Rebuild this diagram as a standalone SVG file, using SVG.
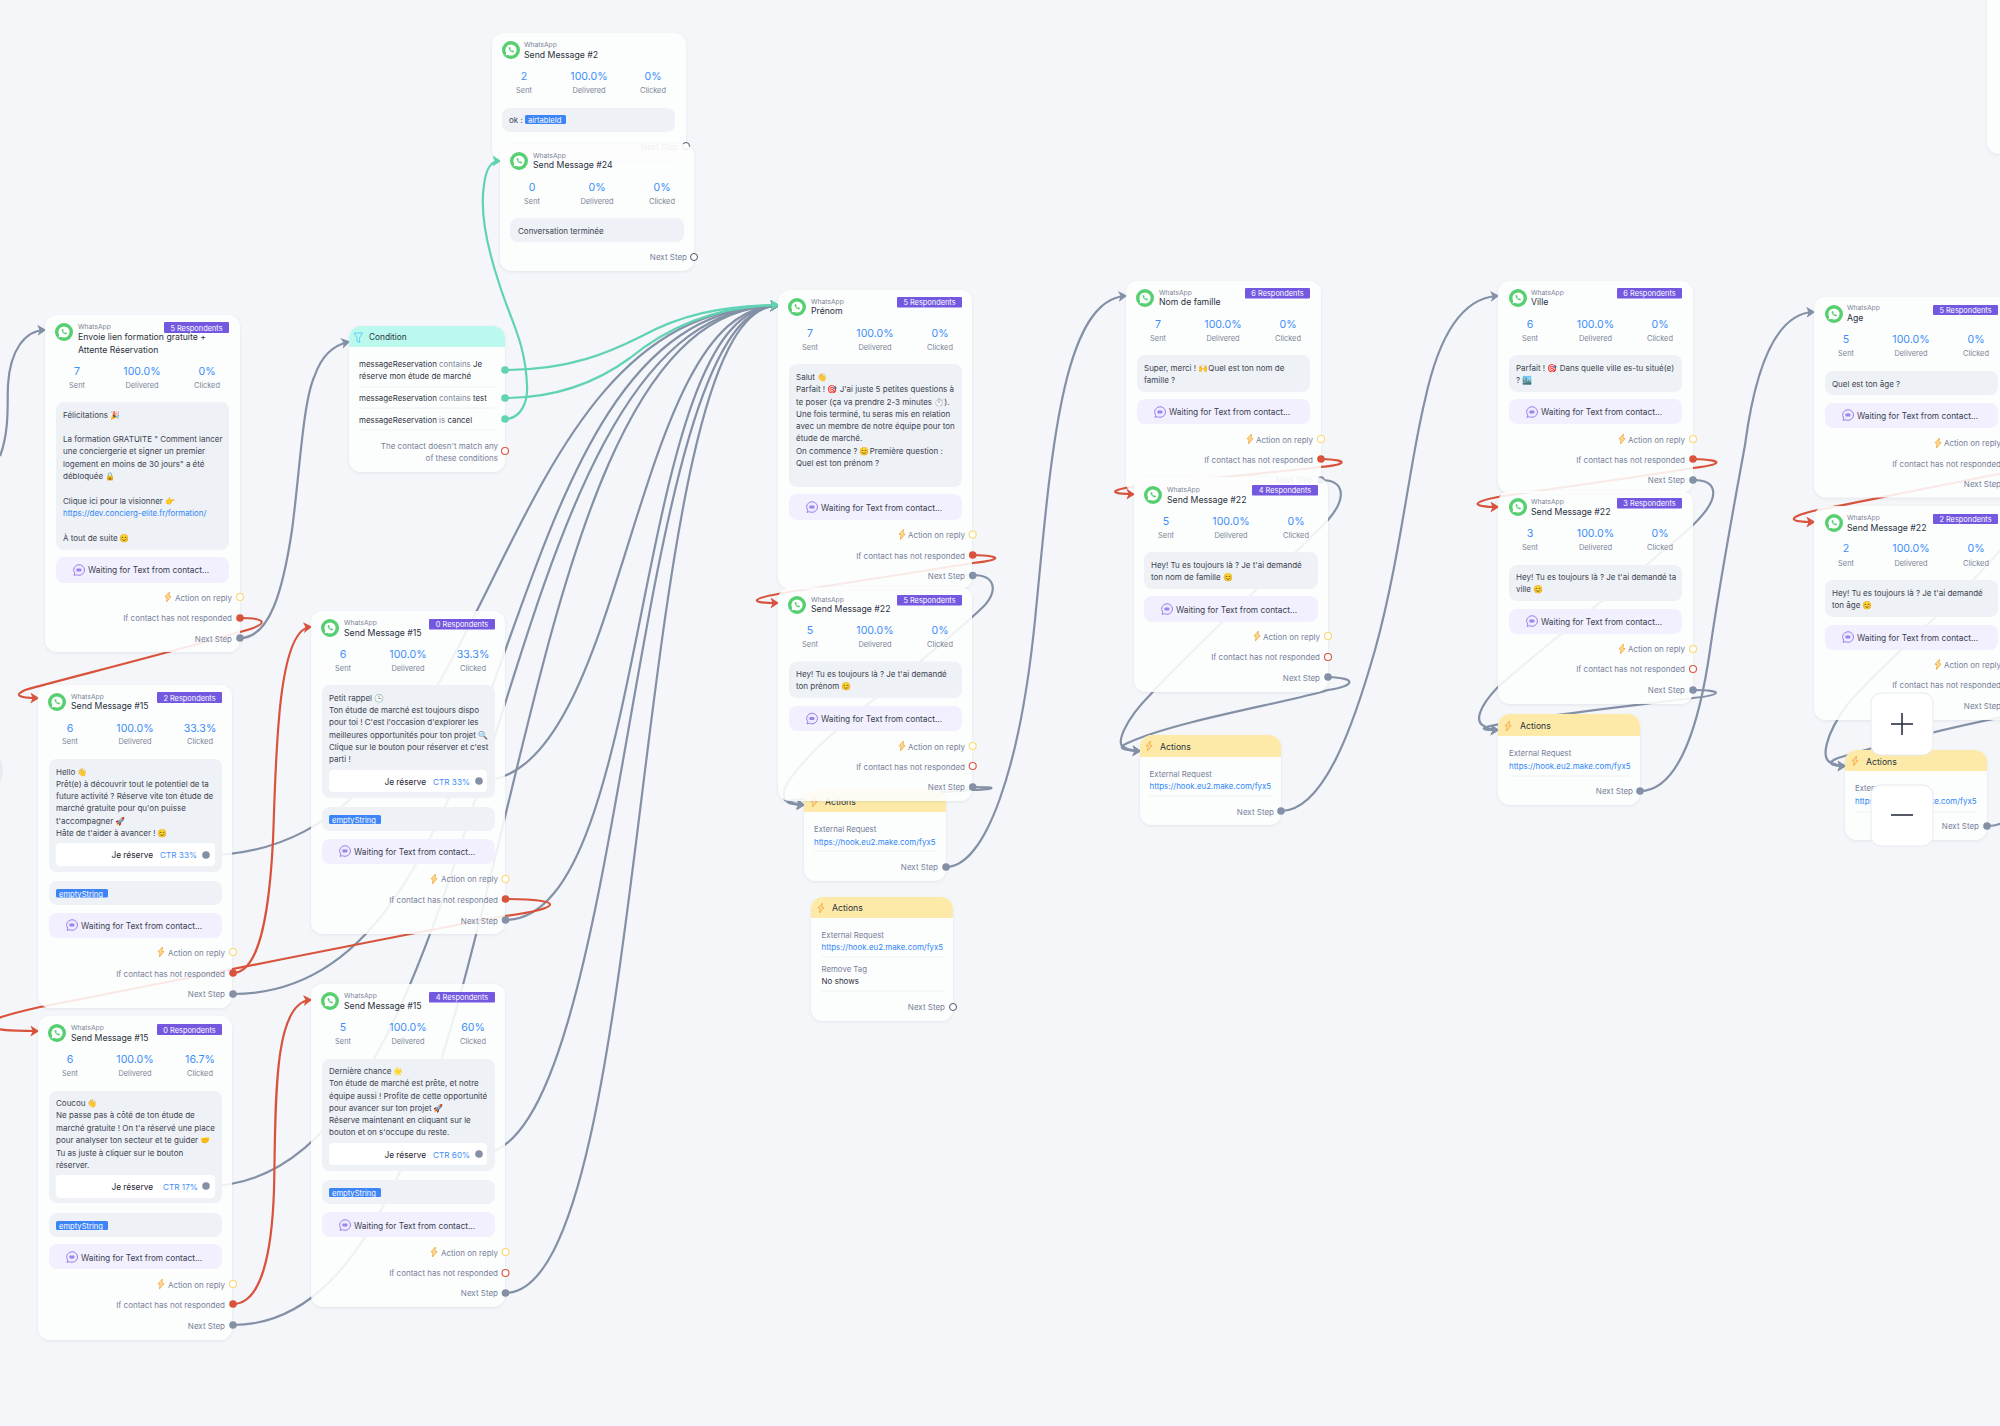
<svg xmlns="http://www.w3.org/2000/svg" xmlns:xlink="http://www.w3.org/1999/xlink" width="2000" height="1426" viewBox="0 0 2000 1426">
<style>
text{font-family:Inter,"Noto Sans","Noto Color Emoji",sans-serif}
.cd{fill:#fff;fill-opacity:.87;filter:url(#sh)}
.wa{font-size:6.7px;fill:#7b8597}
.ti{font-size:8.7px;fill:#2b3240}
.v{font-size:10.6px;fill:#3d8ef8;text-anchor:middle}
.l{font-size:7.4px;fill:#7b8597;text-anchor:middle}
.m{font-size:8px;fill:#3d4452}
.lk{font-size:7.9px;fill:#2f86f6}
.w{font-size:8.3px;fill:#3a4150}
.p{font-size:8px;fill:#77819a;text-anchor:end}
.ph{font-size:7.8px;fill:#77819a}
.bd{fill:#7459e0}
.bt{font-size:7.4px;fill:#fff;text-anchor:middle}
.mb{fill:#eef1f5}
.wb{fill:#f2f0fe}
.btn{fill:#fff;fill-opacity:.95}
.jr{font-size:8.3px;fill:#1f2430;text-anchor:end}
.ct{font-size:8.2px;fill:#3d8ef8}
.tg{fill:#3d84f7}
.tt{font-size:7.6px;fill:#fff}
.hy{fill:#fff;stroke:#fcd670;stroke-width:1.1}
.hr{fill:#d9533c}
.ho{fill:#fff;stroke:#d9533c;stroke-width:1.1}
.hg{fill:#8390a5}
.he{fill:#fff;stroke:#4a5568;stroke-width:1}
.hn{fill:#5fd3b3}
.ah{fill:#fdeaa8}
.at{font-size:8.7px;fill:#2b3240}
.dv{stroke:#eef1f5;stroke-width:1}
.c{font-size:7.9px;fill:#2f3644}
.c2{fill:#7b8597}
.g{fill:none;stroke:#8390a5;stroke-width:2.2}
.n{fill:none;stroke:#5fd3b3;stroke-width:2.2}
.r{fill:none;stroke:#d9533c;stroke-width:2.2}
.zb{fill:#fff;stroke:#e6e9ef;stroke-width:1}
.zi{stroke:#2a3040;stroke-width:1.6}
</style>
<defs>
<filter id="sh" x="-10%" y="-10%" width="120%" height="120%"><feDropShadow dx="0" dy="1" stdDeviation="1.5" flood-color="#5a6a85" flood-opacity=".14"/></filter>
<marker id="ag" markerUnits="userSpaceOnUse" markerWidth="9" markerHeight="11" viewBox="0 0 8 10" refX="6" refY="5" orient="auto"><path d="M0 0L8 5L0 10L2 5z" fill="#8390a5"/></marker>
<marker id="an" markerUnits="userSpaceOnUse" markerWidth="9" markerHeight="11" viewBox="0 0 8 10" refX="6" refY="5" orient="auto"><path d="M0 0L8 5L0 10L2 5z" fill="#5fd3b3"/></marker>
<marker id="ar" markerUnits="userSpaceOnUse" markerWidth="9" markerHeight="11" viewBox="0 0 8 10" refX="6" refY="5" orient="auto"><path d="M0 0L8 5L0 10L2 5z" fill="#d9533c"/></marker>
<g id="wa"><circle r="9" fill="#55cf70"/><circle r="5.6" fill="#fff"/><path d="M-5.5 5.5L-4.4 2L-2 4.4z" fill="#fff"/><path d="M-2.4-2.6C-2.6-.4-.2 2.2 2.4 2.4L3 1 1.6.3 1 .9C.2.6-.6-.2-.9-1L-.3-1.6-1-3z" fill="#55cf70"/></g>
<g id="ch"><path d="M0-5.3A5.5 5.3 0 0 1 0 5.3Q-1.5 5.3-2.8 4.7L-5 5.4L-4.3 3.2A5.5 5.3 0 0 1 0-5.3z" fill="#efeafd" stroke="#9a83ea" stroke-width="1"/><rect x="-2.6" y="-1.6" width="5" height="3" rx="1" fill="#9a83ea"/></g>
<path id="bt" d="M1.6-5L-3-.2L-.8.2L-1.6 5L3-.4L.8-.8z" fill="#fde3a8" stroke="#f6b04a" stroke-width="1"/>
</defs>
<rect width="2000" height="1426" fill="#f4f6f9"/>
<circle cx="-25" cy="770" r="28" fill="#e8ecf1"/>
<rect x="1987" y="-20" width="60" height="174" rx="12" class="cd"/>

<g id="connectors">
<path class="g" marker-end="url(#ag)" d="M0 456C10 430 7 400 8 385C10 350 25 331 44 330"/>
<path class="g" marker-end="url(#ag)" d="M240 638C270 638 283 590 292 530C300 470 303 400 315 375C322 355 335 345 348 342"/>
<path class="r" marker-end="url(#ar)" d="M240 618C268 618 270 624 240 632C180 650 60 680 25 690C14 695 18 698 37 698"/>
<path class="g" marker-end="url(#ag)" d="M233 994C533 994 478 306 777 306"/>
<path class="g" marker-end="url(#ag)" d="M206 855C506 855 478 306 777 306"/>
<path class="g" marker-end="url(#ag)" d="M206 1186C506 1186 478 306 777 306"/>
<path class="g" marker-end="url(#ag)" d="M233 1325C533 1325 478 306 777 306"/>
<path class="g" marker-end="url(#ag)" d="M479 781C629 781 628 306 777 306"/>
<path class="g" marker-end="url(#ag)" d="M505 920C655 920 628 306 777 306"/>
<path class="g" marker-end="url(#ag)" d="M479 1154C629 1154 628 306 777 306"/>
<path class="g" marker-end="url(#ag)" d="M505 1293C655 1293 628 306 777 306"/>
<path class="n" marker-end="url(#an)" d="M505 370C570 370 610 352 640 337C680 315 720 306 777 305"/>
<path class="n" marker-end="url(#an)" d="M505 398C560 398 600 380 630 358C670 325 720 306 777 305"/>
<path class="n" marker-end="url(#an)" d="M505 419C522 419 528 400 527 385C525 340 510 320 498 280C485 240 480 210 484 185C486 168 492 161 499 161"/>
<path class="r" marker-end="url(#ar)" d="M233 973C262 973 270 900 273 840C276 770 276 630 310 627"/>
<path class="r" marker-end="url(#ar)" d="M505 899C565 899 565 908 505 916C400 935 130 990 40 1007C0 1016-15 1022-12 1025C-10 1030 10 1031 37 1031"/>
<path class="r" marker-end="url(#ar)" d="M233 1304C262 1304 272 1250 274 1190C276 1110 272 1003 310 1000"/>
<path class="r" marker-end="url(#ar)" d="M973 555C1005 556 1000 560 973 563C900 575 810 588 778 594C750 599 750 603 777 603"/>
<path class="g" marker-end="url(#ag)" d="M973 575C995 575 998 590 985 605C950 640 870 700 820 745C790 775 780 790 785 800C790 803 797 804 803 805"/>
<path class="g" marker-end="url(#ag)" d="M973 787C1000 787 995 789 973 790C920 795 820 795 788 801C785 803 795 805 803 805"/>
<path class="g" marker-end="url(#ag)" d="M946 867C985 867 1020 770 1035 620C1050 470 1060 300 1125 296"/>
<path class="r" marker-end="url(#ar)" d="M1321 459C1352 460 1345 465 1320 467C1270 473 1170 482 1130 487C1108 491 1112 494 1133 494"/>
<path class="g" marker-end="url(#ag)" d="M1321 480C1345 480 1347 498 1328 520C1300 550 1190 650 1150 695C1125 720 1115 745 1124 747C1128 750 1135 751 1139 751"/>
<path class="g" marker-end="url(#ag)" d="M1328 677C1358 678 1355 686 1328 690C1290 702 1180 720 1130 742C1115 748 1122 750 1139 751"/>
<path class="g" marker-end="url(#ag)" d="M1281 811C1325 811 1355 720 1375 650C1400 560 1410 460 1425 400C1440 330 1465 298 1497 296"/>
<path class="r" marker-end="url(#ar)" d="M1693 459C1728 460 1720 465 1693 468C1620 480 1540 490 1498 497C1470 502 1472 507 1497 507"/>
<path class="g" marker-end="url(#ag)" d="M1693 480C1718 480 1722 497 1693 525C1650 565 1550 640 1497 688C1478 708 1475 722 1484 726C1488 729 1494 730 1497 730"/>
<path class="g" marker-end="url(#ag)" d="M1693 690C1725 690 1722 695 1693 698C1640 705 1540 715 1490 726C1478 729 1485 730 1497 730"/>
<path class="g" marker-end="url(#ag)" d="M1640 791C1680 791 1700 720 1710 650C1720 580 1735 500 1745 445C1755 370 1775 314 1813 312"/>
<path class="r" marker-end="url(#ar)" d="M2010 472C1950 483 1870 500 1813 511C1785 518 1790 522 1813 522"/>
<path class="g" marker-end="url(#ag)" d="M2009 540C1960 600 1880 665 1847 705C1825 735 1820 760 1832 763C1836 765 1840 766 1844 766"/>
<path class="g" marker-end="url(#ag)" d="M2009 716C1960 725 1880 745 1838 758C1825 763 1832 766 1844 766"/>
<path class="g" d="M1987 826C1994 826 1998 825 2002 823"/>
</g>

<g id="node-envoie">
<rect x="45" y="315" width="195" height="337" rx="12" class="cd"/>
<use href="#wa" x="64" y="332"/>
<text x="78" y="329" class="wa">WhatsApp</text>
<text x="78" y="340" class="ti">Envoie lien formation gratuite +</text>
<text x="78" y="353" class="ti">Attente Réservation</text>
<rect x="164" y="322" width="65" height="11" rx="1" class="bd"/><text x="196.5" y="330.8" class="bt">5 Respondents</text>
<text x="77" y="375" class="v">7</text><text x="142" y="375" class="v">100.0%</text><text x="207" y="375" class="v">0%</text>
<text x="77" y="388" class="l">Sent</text><text x="142" y="388" class="l">Delivered</text><text x="207" y="388" class="l">Clicked</text>
<rect x="56" y="402" width="173" height="148" rx="8" class="mb"/>
<text x="63" y="418" class="m">Félicitations 🎉</text>
<text x="63" y="442" class="m">La formation GRATUITE " Comment lancer</text>
<text x="63" y="454" class="m">une conciergerie et signer un premier</text>
<text x="63" y="467" class="m">logement en moins de 30 jours" a été</text>
<text x="63" y="479" class="m">débloquée 🔒</text>
<text x="63" y="504" class="m">Clique ici pour la visionner 👉</text>
<text x="63" y="516" class="lk">https://dev.concierg-elite.fr/formation/</text>
<text x="63" y="541" class="m">À tout de suite 😊</text>
<rect x="56" y="557" width="173" height="26" rx="8" class="wb"/><use href="#ch" x="79" y="570"/><text x="88" y="573" class="w">Waiting for Text from contact...</text>
<use href="#bt" x="168" y="597"/><text x="232" y="601" class="p">Action on reply</text><circle cx="240" cy="597" r="3.5" class="hy"/>
<text x="232" y="621" class="p">If contact has not responded</text><circle cx="240" cy="618" r="3.8" class="hr"/>
<text x="232" y="642" class="p">Next Step</text><circle cx="240" cy="638" r="3.8" class="hg"/>
</g>

<g id="node-condition">
<path d="M361 326H493A12 12 0 0 1 505 338V460A12 12 0 0 1 493 472H361A12 12 0 0 1 349 460V338A12 12 0 0 1 361 326z" class="cd"/>
<path d="M361 326H493A12 12 0 0 1 505 338V347H349V338A12 12 0 0 1 361 326z" fill="#bbf9ee"/>
<path d="M354 333H362.5L359.6 337.6V342.5L356.9 341V337.6z" fill="none" stroke="#5dd0f0" stroke-width="1"/>
<text x="369" y="340" style="font-size:8.3px;fill:#2b3240">Condition</text>
<text x="359" y="367" class="c">messageReservation <tspan class="c2">contains</tspan> Je</text>
<text x="359" y="379" class="c">réserve mon étude de marché</text>
<line x1="359" y1="387" x2="495" y2="387" class="dv"/>
<text x="359" y="401" class="c">messageReservation <tspan class="c2">contains</tspan> test</text>
<line x1="359" y1="408" x2="495" y2="408" class="dv"/>
<text x="359" y="423" class="c">messageReservation <tspan class="c2">is</tspan> cancel</text>
<line x1="359" y1="430" x2="495" y2="430" class="dv"/>
<text x="498" y="449" class="p">The contact doesn't match any</text>
<text x="498" y="461" class="p">of these conditions</text>
<circle cx="505" cy="370" r="3.8" class="hn"/><circle cx="505" cy="398" r="3.8" class="hn"/><circle cx="505" cy="419" r="3.8" class="hn"/><circle cx="505" cy="451" r="3.5" class="ho"/>
</g>

<g id="node-send2">
<rect x="492" y="33" width="194" height="127" rx="12" class="cd"/>
<use href="#wa" x="511" y="50"/>
<text x="524" y="47" class="wa">WhatsApp</text><text x="524" y="58" class="ti">Send Message #2</text>
<text x="524" y="80" class="v">2</text><text x="589" y="80" class="v">100.0%</text><text x="653" y="80" class="v">0%</text>
<text x="524" y="93" class="l">Sent</text><text x="589" y="93" class="l">Delivered</text><text x="653" y="93" class="l">Clicked</text>
<rect x="502" y="108" width="173" height="24" rx="8" class="mb"/>
<text x="509" y="123" class="m">ok :</text><rect x="525" y="115" width="41" height="9" rx="1.5" class="tg"/><text x="528" y="123" class="tt">airtableId</text>
<text x="678" y="150" class="p">Next Step</text><circle cx="686" cy="146" r="3.5" class="he"/>
</g>

<g id="node-send24">
<rect x="500" y="144" width="194" height="127" rx="12" class="cd"/>
<use href="#wa" x="519" y="161"/>
<text x="533" y="158" class="wa">WhatsApp</text><text x="533" y="168" class="ti">Send Message #24</text>
<text x="532" y="191" class="v">0</text><text x="597" y="191" class="v">0%</text><text x="662" y="191" class="v">0%</text>
<text x="532" y="204" class="l">Sent</text><text x="597" y="204" class="l">Delivered</text><text x="662" y="204" class="l">Clicked</text>
<rect x="510" y="218" width="174" height="24" rx="8" class="mb"/>
<text x="518" y="234" class="m">Conversation terminée</text>
<text x="687" y="260" class="p">Next Step</text><circle cx="694" cy="257" r="3.5" class="he"/>
</g>

<g id="node-send15-a">
<rect x="38" y="685" width="194" height="323" rx="12" class="cd"/>
<use href="#wa" x="57" y="702"/>
<text x="71" y="699" class="wa">WhatsApp</text><text x="71" y="709" class="ti">Send Message #15</text>
<rect x="157" y="692" width="65" height="11" rx="1" class="bd"/><text x="189.5" y="700.8" class="bt">2 Respondents</text>
<text x="70" y="732" class="v">6</text><text x="135" y="732" class="v">100.0%</text><text x="200" y="732" class="v">33.3%</text>
<text x="70" y="744" class="l">Sent</text><text x="135" y="744" class="l">Delivered</text><text x="200" y="744" class="l">Clicked</text>
<rect x="49" y="759" width="173" height="113" rx="8" class="mb"/>
<text x="56" y="775" class="m">Hello 👋</text>
<text x="56" y="787" class="m">Prêt(e) à découvrir tout le potentiel de ta</text>
<text x="56" y="799" class="m">future activité ? Réserve vite ton étude de</text>
<text x="56" y="811" class="m">marché gratuite pour qu'on puisse</text>
<text x="56" y="824" class="m">t'accompagner 🚀</text>
<text x="56" y="836" class="m">Hâte de t'aider à avancer ! 😊</text>
<rect x="56" y="843" width="159" height="23" rx="4" class="btn"/>
<text x="153" y="858" class="jr">Je réserve</text><text x="160" y="858" class="ct">CTR 33%</text><circle cx="206" cy="855" r="3.8" class="hg"/>
<rect x="49" y="881" width="173" height="24" rx="8" class="mb"/><rect x="56" y="889" width="52" height="8.6" rx="1.5" class="tg"/><text x="59" y="897" class="tt">emptyString</text>
<rect x="49" y="913" width="173" height="25" rx="8" class="wb"/><use href="#ch" x="72" y="925"/><text x="81" y="929" class="w">Waiting for Text from contact...</text>
<use href="#bt" x="161" y="952"/><text x="225" y="956" class="p">Action on reply</text><circle cx="233" cy="952" r="3.5" class="hy"/>
<text x="225" y="977" class="p">If contact has not responded</text><circle cx="233" cy="973" r="3.8" class="hr"/>
<text x="225" y="997" class="p">Next Step</text><circle cx="233" cy="994" r="3.8" class="hg"/>
</g>

<g id="node-send15-b">
<rect x="38" y="1016" width="194" height="324" rx="12" class="cd"/>
<use href="#wa" x="57" y="1033"/>
<text x="71" y="1030" class="wa">WhatsApp</text><text x="71" y="1041" class="ti">Send Message #15</text>
<rect x="157" y="1024" width="65" height="11" rx="1" class="bd"/><text x="189.5" y="1032.8" class="bt">0 Respondents</text>
<text x="70" y="1063" class="v">6</text><text x="135" y="1063" class="v">100.0%</text><text x="200" y="1063" class="v">16.7%</text>
<text x="70" y="1076" class="l">Sent</text><text x="135" y="1076" class="l">Delivered</text><text x="200" y="1076" class="l">Clicked</text>
<rect x="49" y="1091" width="173" height="112" rx="8" class="mb"/>
<text x="56" y="1106" class="m">Coucou 👋</text>
<text x="56" y="1118" class="m">Ne passe pas à côté de ton étude de</text>
<text x="56" y="1131" class="m">marché gratuite ! On t'a réservé une place</text>
<text x="56" y="1143" class="m">pour analyser ton secteur et te guider 🤝</text>
<text x="56" y="1156" class="m">Tu as juste à cliquer sur le bouton</text>
<text x="56" y="1168" class="m">réserver.</text>
<rect x="56" y="1175" width="159" height="23" rx="4" class="btn"/>
<text x="153" y="1190" class="jr">Je réserve</text><text x="163" y="1190" class="ct">CTR 17%</text><circle cx="206" cy="1186" r="3.8" class="hg"/>
<rect x="49" y="1213" width="173" height="24" rx="8" class="mb"/><rect x="56" y="1221" width="52" height="9" rx="1.5" class="tg"/><text x="59" y="1229" class="tt">emptyString</text>
<rect x="49" y="1244" width="173" height="25" rx="8" class="wb"/><use href="#ch" x="72" y="1257"/><text x="81" y="1261" class="w">Waiting for Text from contact...</text>
<use href="#bt" x="161" y="1284"/><text x="225" y="1288" class="p">Action on reply</text><circle cx="233" cy="1284" r="3.5" class="hy"/>
<text x="225" y="1308" class="p">If contact has not responded</text><circle cx="233" cy="1304" r="3.8" class="hr"/>
<text x="225" y="1329" class="p">Next Step</text><circle cx="233" cy="1325" r="3.8" class="hg"/>
</g>

<g id="node-send15-c">
<rect x="311" y="611" width="194" height="323" rx="12" class="cd"/>
<use href="#wa" x="330" y="628"/>
<text x="344" y="625" class="wa">WhatsApp</text><text x="344" y="636" class="ti">Send Message #15</text>
<rect x="429" y="619" width="66" height="10.5" rx="1" class="bd"/><text x="462" y="627.2" class="bt">0 Respondents</text>
<text x="343" y="658" class="v">6</text><text x="408" y="658" class="v">100.0%</text><text x="473" y="658" class="v">33.3%</text>
<text x="343" y="671" class="l">Sent</text><text x="408" y="671" class="l">Delivered</text><text x="473" y="671" class="l">Clicked</text>
<rect x="322" y="685" width="173" height="113" rx="8" class="mb"/>
<text x="329" y="701" class="m">Petit rappel 🕒</text>
<text x="329" y="713" class="m">Ton étude de marché est toujours dispo</text>
<text x="329" y="725" class="m">pour toi ! C'est l'occasion d'explorer les</text>
<text x="329" y="738" class="m">meilleures opportunités pour ton projet 🔍</text>
<text x="329" y="750" class="m">Clique sur le bouton pour réserver et c'est</text>
<text x="329" y="762" class="m">parti !</text>
<rect x="329" y="770" width="158" height="22" rx="4" class="btn"/>
<text x="426" y="785" class="jr">Je réserve</text><text x="433" y="785" class="ct">CTR 33%</text><circle cx="479" cy="781" r="3.8" class="hg"/>
<rect x="322" y="807" width="173" height="24" rx="8" class="mb"/><rect x="329" y="815" width="52" height="9" rx="1.5" class="tg"/><text x="332" y="823" class="tt">emptyString</text>
<rect x="322" y="839" width="173" height="25" rx="8" class="wb"/><use href="#ch" x="345" y="851"/><text x="354" y="855" class="w">Waiting for Text from contact...</text>
<use href="#bt" x="434" y="879"/><text x="498" y="882" class="p">Action on reply</text><circle cx="505.5" cy="879" r="3.5" class="hy"/>
<text x="498" y="903" class="p">If contact has not responded</text><circle cx="505.5" cy="899" r="3.8" class="hr"/>
<text x="498" y="924" class="p">Next Step</text><circle cx="505.5" cy="920" r="3.8" class="hg"/>
</g>

<g id="node-send15-d">
<rect x="311" y="984" width="194" height="323" rx="12" class="cd"/>
<use href="#wa" x="330" y="1001"/>
<text x="344" y="998" class="wa">WhatsApp</text><text x="344" y="1009" class="ti">Send Message #15</text>
<rect x="429" y="992" width="66" height="10.5" rx="1" class="bd"/><text x="462" y="1000.2" class="bt">4 Respondents</text>
<text x="343" y="1031" class="v">5</text><text x="408" y="1031" class="v">100.0%</text><text x="473" y="1031" class="v">60%</text>
<text x="343" y="1044" class="l">Sent</text><text x="408" y="1044" class="l">Delivered</text><text x="473" y="1044" class="l">Clicked</text>
<rect x="322" y="1059" width="173" height="112" rx="8" class="mb"/>
<text x="329" y="1074" class="m">Dernière chance 🌟</text>
<text x="329" y="1086" class="m">Ton étude de marché est prête, et notre</text>
<text x="329" y="1099" class="m">équipe aussi ! Profite de cette opportunité</text>
<text x="329" y="1111" class="m">pour avancer sur ton projet 🚀</text>
<text x="329" y="1123" class="m">Réserve maintenant en cliquant sur le</text>
<text x="329" y="1135" class="m">bouton et on s'occupe du reste.</text>
<rect x="329" y="1143" width="158" height="22" rx="4" class="btn"/>
<text x="426" y="1158" class="jr">Je réserve</text><text x="433" y="1158" class="ct">CTR 60%</text><circle cx="479" cy="1154" r="3.8" class="hg"/>
<rect x="322" y="1180" width="173" height="24" rx="8" class="mb"/><rect x="329" y="1188" width="52" height="9" rx="1.5" class="tg"/><text x="332" y="1196" class="tt">emptyString</text>
<rect x="322" y="1212" width="173" height="25" rx="8" class="wb"/><use href="#ch" x="345" y="1225"/><text x="354" y="1229" class="w">Waiting for Text from contact...</text>
<use href="#bt" x="434" y="1252"/><text x="498" y="1256" class="p">Action on reply</text><circle cx="505.5" cy="1252" r="3.5" class="hy"/>
<text x="498" y="1276" class="p">If contact has not responded</text><circle cx="505.5" cy="1273" r="3.5" class="ho"/>
<text x="498" y="1296" class="p">Next Step</text><circle cx="505.5" cy="1293" r="3.8" class="hg"/>
</g>

<g id="node-prenom">
<rect x="778" y="290" width="194" height="299" rx="12" class="cd"/>
<use href="#wa" x="797" y="307"/>
<text x="811" y="304" class="wa">WhatsApp</text><text x="811" y="314" class="ti">Prénom</text>
<rect x="897" y="297" width="65" height="10.5" rx="1" class="bd"/><text x="929.5" y="305.2" class="bt">5 Respondents</text>
<text x="810" y="337" class="v">7</text><text x="875" y="337" class="v">100.0%</text><text x="940" y="337" class="v">0%</text>
<text x="810" y="350" class="l">Sent</text><text x="875" y="350" class="l">Delivered</text><text x="940" y="350" class="l">Clicked</text>
<rect x="789" y="364" width="173" height="123" rx="8" class="mb"/>
<text x="796" y="380" class="m">Salut 👋</text>
<text x="796" y="392" class="m">Parfait ! 🎯 J'ai juste 5 petites questions à</text>
<text x="796" y="405" class="m">te poser (ça va prendre 2-3 minutes ⏱).</text>
<text x="796" y="417" class="m">Une fois terminé, tu seras mis en relation</text>
<text x="796" y="429" class="m">avec un membre de notre équipe pour ton</text>
<text x="796" y="441" class="m">étude de marché.</text>
<text x="796" y="454" class="m">On commence ? 😊Première question :</text>
<text x="796" y="466" class="m">Quel est ton prénom ?</text>
<rect x="789" y="494" width="173" height="26" rx="8" class="wb"/><use href="#ch" x="812" y="507"/><text x="821" y="511" class="w">Waiting for Text from contact...</text>
<use href="#bt" x="902" y="534.5"/><text x="965" y="538" class="p">Action on reply</text><circle cx="972.7" cy="534.5" r="3.5" class="hy"/>
<text x="965" y="559" class="p">If contact has not responded</text><circle cx="972.7" cy="555" r="3.8" class="hr"/>
<text x="965" y="579" class="p">Next Step</text><circle cx="972.7" cy="575.5" r="3.8" class="hg"/>
</g>

<g id="node-actions-1">
<path d="M816 790H934A12 12 0 0 1 946 802V869A12 12 0 0 1 934 881H816A12 12 0 0 1 804 869V802A12 12 0 0 1 816 790z" class="cd"/>
<path d="M816 790H934A12 12 0 0 1 946 802V812H804V802A12 12 0 0 1 816 790z" class="ah"/>
<use href="#bt" x="814" y="802"/><text x="825" y="805" class="at">Actions</text>
<text x="814" y="832" class="ph">External Request</text>
<text x="814" y="845" class="lk">https://hook.eu2.make.com/fyx5</text>
<line x1="814" y1="851" x2="936" y2="851" class="dv"/>
<text x="938" y="870" class="p">Next Step</text><circle cx="946" cy="867" r="3.8" class="hg"/>
</g>

<g id="node-send22-prenom">
<rect x="778" y="587.5" width="194" height="213.5" rx="12" class="cd"/>
<use href="#wa" x="797" y="605"/>
<text x="811" y="601.6" class="wa">WhatsApp</text><text x="811" y="612" class="ti">Send Message #22</text>
<rect x="897" y="595" width="65" height="10.5" rx="1" class="bd"/><text x="929.5" y="603.2" class="bt">5 Respondents</text>
<text x="810" y="634" class="v">5</text><text x="875" y="634" class="v">100.0%</text><text x="940" y="634" class="v">0%</text>
<text x="810" y="647.4" class="l">Sent</text><text x="875" y="647.4" class="l">Delivered</text><text x="940" y="647.4" class="l">Clicked</text>
<rect x="789" y="661.5" width="173" height="36.5" rx="8" class="mb"/>
<text x="796" y="677.4" class="m">Hey! Tu es toujours là ? Je t'ai demandé</text>
<text x="796" y="689.4" class="m">ton prénom 😊</text>
<rect x="789" y="706" width="173" height="25" rx="8" class="wb"/><use href="#ch" x="812" y="718.5"/><text x="821" y="722" class="w">Waiting for Text from contact...</text>
<use href="#bt" x="902" y="746"/><text x="965" y="749.5" class="p">Action on reply</text><circle cx="972.7" cy="746" r="3.5" class="hy"/>
<text x="965" y="770" class="p">If contact has not responded</text><circle cx="972.7" cy="766" r="3.5" class="ho"/>
<text x="965" y="790" class="p">Next Step</text><circle cx="972.7" cy="787" r="3.8" class="hg"/>
</g>

<g id="node-actions-2">
<path d="M823 897H941A12 12 0 0 1 953 909V1009A12 12 0 0 1 941 1021H823A12 12 0 0 1 811 1009V909A12 12 0 0 1 823 897z" class="cd"/>
<path d="M823 897H941A12 12 0 0 1 953 909V918H811V909A12 12 0 0 1 823 897z" class="ah"/>
<use href="#bt" x="821" y="908"/><text x="832" y="911" class="at">Actions</text>
<text x="821.6" y="938" class="ph">External Request</text>
<text x="821.6" y="950" class="lk">https://hook.eu2.make.com/fyx5</text>
<line x1="821.6" y1="957" x2="943" y2="957" class="dv"/>
<text x="821.6" y="972" class="ph">Remove Tag</text>
<text x="821.6" y="984" class="m" style="fill:#2b3240">No shows</text>
<line x1="821.6" y1="991" x2="943" y2="991" class="dv"/>
<text x="945" y="1010" class="p">Next Step</text><circle cx="953" cy="1007" r="3.5" class="he"/>
</g>

<g id="node-nom">
<rect x="1126" y="281" width="195" height="213" rx="12" class="cd"/>
<use href="#wa" x="1145" y="298"/>
<text x="1159" y="295" class="wa">WhatsApp</text><text x="1159" y="305" class="ti">Nom de famille</text>
<rect x="1245" y="288" width="65" height="10.5" rx="1" class="bd"/><text x="1277.5" y="296.2" class="bt">6 Respondents</text>
<text x="1158" y="328" class="v">7</text><text x="1223" y="328" class="v">100.0%</text><text x="1288" y="328" class="v">0%</text>
<text x="1158" y="341" class="l">Sent</text><text x="1223" y="341" class="l">Delivered</text><text x="1288" y="341" class="l">Clicked</text>
<rect x="1137" y="355" width="173" height="37" rx="8" class="mb"/>
<text x="1144" y="371" class="m">Super, merci ! 🙌Quel est ton nom de</text>
<text x="1144" y="383" class="m">famille ?</text>
<rect x="1137" y="399" width="173" height="25" rx="8" class="wb"/><use href="#ch" x="1160" y="412"/><text x="1169" y="415" class="w">Waiting for Text from contact...</text>
<use href="#bt" x="1250" y="439"/><text x="1313" y="443" class="p">Action on reply</text><circle cx="1321" cy="439" r="3.5" class="hy"/>
<text x="1313" y="463" class="p">If contact has not responded</text><circle cx="1321" cy="459" r="3.8" class="hr"/>
<text x="1313" y="483" class="p">Next Step</text><circle cx="1321" cy="480" r="3.8" class="hg"/>
</g>

<g id="node-send22-nom">
<rect x="1134" y="477" width="194" height="215" rx="12" class="cd"/>
<use href="#wa" x="1153" y="495"/>
<text x="1167" y="492" class="wa">WhatsApp</text><text x="1167" y="503" class="ti">Send Message #22</text>
<rect x="1252" y="485" width="66" height="10.5" rx="1" class="bd"/><text x="1285" y="493.2" class="bt">4 Respondents</text>
<text x="1166" y="525" class="v">5</text><text x="1231" y="525" class="v">100.0%</text><text x="1296" y="525" class="v">0%</text>
<text x="1166" y="538" class="l">Sent</text><text x="1231" y="538" class="l">Delivered</text><text x="1296" y="538" class="l">Clicked</text>
<rect x="1144" y="552" width="174" height="37" rx="8" class="mb"/>
<text x="1151" y="568" class="m">Hey! Tu es toujours là ? Je t'ai demandé</text>
<text x="1151" y="580" class="m">ton nom de famille 😊</text>
<rect x="1144" y="596" width="174" height="26" rx="8" class="wb"/><use href="#ch" x="1167" y="609"/><text x="1176" y="613" class="w">Waiting for Text from contact...</text>
<use href="#bt" x="1257" y="636"/><text x="1320" y="640" class="p">Action on reply</text><circle cx="1328" cy="636" r="3.5" class="hy"/>
<text x="1320" y="660" class="p">If contact has not responded</text><circle cx="1328" cy="657" r="3.5" class="ho"/>
<text x="1320" y="681" class="p">Next Step</text><circle cx="1328" cy="677" r="3.8" class="hg"/>
</g>

<g id="node-actions-3">
<path d="M1152 735H1269A12 12 0 0 1 1281 747V813A12 12 0 0 1 1269 825H1152A12 12 0 0 1 1140 813V747A12 12 0 0 1 1152 735z" class="cd"/>
<path d="M1152 735H1269A12 12 0 0 1 1281 747V757H1140V747A12 12 0 0 1 1152 735z" class="ah"/>
<use href="#bt" x="1149" y="746"/><text x="1160" y="750" class="at">Actions</text>
<text x="1149.6" y="777" class="ph">External Request</text>
<text x="1149.6" y="789" class="lk">https://hook.eu2.make.com/fyx5</text>
<line x1="1149.6" y1="796" x2="1271" y2="796" class="dv"/>
<text x="1274" y="815" class="p">Next Step</text><circle cx="1281" cy="811" r="3.8" class="hg"/>
</g>

<g id="node-ville">
<rect x="1498" y="281" width="195" height="212" rx="12" class="cd"/>
<use href="#wa" x="1518" y="298"/>
<text x="1531" y="295" class="wa">WhatsApp</text><text x="1531" y="305" class="ti">Ville</text>
<rect x="1617" y="288" width="65" height="10.5" rx="1" class="bd"/><text x="1649.5" y="296.2" class="bt">6 Respondents</text>
<text x="1530" y="328" class="v">6</text><text x="1595.5" y="328" class="v">100.0%</text><text x="1660" y="328" class="v">0%</text>
<text x="1530" y="341" class="l">Sent</text><text x="1595.5" y="341" class="l">Delivered</text><text x="1660" y="341" class="l">Clicked</text>
<rect x="1509" y="355" width="173" height="37" rx="8" class="mb"/>
<text x="1516" y="371" class="m">Parfait ! 🎯 Dans quelle ville es-tu situé(e)</text>
<text x="1516" y="383" class="m">? 🏙</text>
<rect x="1509" y="399" width="173" height="25" rx="8" class="wb"/><use href="#ch" x="1532" y="412"/><text x="1541" y="415" class="w">Waiting for Text from contact...</text>
<use href="#bt" x="1622" y="439"/><text x="1685" y="443" class="p">Action on reply</text><circle cx="1693" cy="439" r="3.5" class="hy"/>
<text x="1685" y="463" class="p">If contact has not responded</text><circle cx="1693" cy="459" r="3.8" class="hr"/>
<text x="1685" y="483" class="p">Next Step</text><circle cx="1693" cy="480" r="3.8" class="hg"/>
</g>

<g id="node-actions-4">
<path d="M1510 714H1628A12 12 0 0 1 1640 726V793A12 12 0 0 1 1628 805H1510A12 12 0 0 1 1498 793V726A12 12 0 0 1 1510 714z" class="cd"/>
<path d="M1510 714H1628A12 12 0 0 1 1640 726V736H1498V726A12 12 0 0 1 1510 714z" class="ah"/>
<use href="#bt" x="1508" y="726"/><text x="1520" y="729" class="at">Actions</text>
<text x="1509" y="756" class="ph">External Request</text>
<text x="1509" y="769" class="lk">https://hook.eu2.make.com/fyx5</text>
<line x1="1509" y1="776" x2="1630" y2="776" class="dv"/>
<text x="1633" y="794" class="p">Next Step</text><circle cx="1640" cy="791" r="3.8" class="hg"/>
</g>

<g id="node-send22-ville">
<rect x="1498" y="491" width="195" height="213" rx="12" class="cd"/>
<use href="#wa" x="1518" y="507"/>
<text x="1531" y="504" class="wa">WhatsApp</text><text x="1531" y="515" class="ti">Send Message #22</text>
<rect x="1617" y="498" width="65" height="10.5" rx="1" class="bd"/><text x="1649.5" y="506.2" class="bt">3 Respondents</text>
<text x="1530" y="537" class="v">3</text><text x="1595.5" y="537" class="v">100.0%</text><text x="1660" y="537" class="v">0%</text>
<text x="1530" y="550" class="l">Sent</text><text x="1595.5" y="550" class="l">Delivered</text><text x="1660" y="550" class="l">Clicked</text>
<rect x="1509" y="565" width="173" height="36" rx="8" class="mb"/>
<text x="1516" y="580" class="m">Hey! Tu es toujours là ? Je t'ai demandé ta</text>
<text x="1516" y="592" class="m">ville 😊</text>
<rect x="1509" y="609" width="173" height="25" rx="8" class="wb"/><use href="#ch" x="1532" y="621"/><text x="1541" y="625" class="w">Waiting for Text from contact...</text>
<use href="#bt" x="1622" y="649"/><text x="1685" y="652" class="p">Action on reply</text><circle cx="1693" cy="649" r="3.5" class="hy"/>
<text x="1685" y="672" class="p">If contact has not responded</text><circle cx="1693" cy="669" r="3.5" class="ho"/>
<text x="1685" y="693" class="p">Next Step</text><circle cx="1693" cy="690" r="3.8" class="hg"/>
</g>

<g id="node-age">
<rect x="1814" y="297" width="195" height="200.5" rx="12" class="cd"/>
<use href="#wa" x="1834" y="314"/>
<text x="1847" y="310" class="wa">WhatsApp</text><text x="1847" y="321.4" class="ti">Age</text>
<rect x="1933" y="305" width="65" height="10" rx="1" class="bd"/><text x="1965.5" y="312.8" class="bt">5 Respondents</text>
<text x="1846" y="343" class="v">5</text><text x="1911" y="343" class="v">100.0%</text><text x="1976" y="343" class="v">0%</text>
<text x="1846" y="356" class="l">Sent</text><text x="1911" y="356" class="l">Delivered</text><text x="1976" y="356" class="l">Clicked</text>
<rect x="1825" y="371" width="173" height="24" rx="8" class="mb"/>
<text x="1832" y="386.5" class="m">Quel est ton âge ?</text>
<rect x="1825" y="403" width="173" height="25" rx="8" class="wb"/><use href="#ch" x="1848" y="415"/><text x="1857" y="419" class="w">Waiting for Text from contact...</text>
<use href="#bt" x="1938" y="443"/><text x="2001" y="446" class="p">Action on reply</text>
<text x="2001" y="467" class="p">If contact has not responded</text>
<text x="2001" y="487" class="p">Next Step</text>
</g>

<g id="node-actions-5">
<path d="M1857 750H1975A12 12 0 0 1 1987 762V828A12 12 0 0 1 1975 840H1857A12 12 0 0 1 1845 828V762A12 12 0 0 1 1857 750z" class="cd"/>
<path d="M1857 750H1975A12 12 0 0 1 1987 762V771H1845V762A12 12 0 0 1 1857 750z" class="ah"/>
<use href="#bt" x="1855" y="761"/><text x="1866" y="765" class="at">Actions</text>
<text x="1855" y="791" class="ph">External Request</text>
<text x="1855" y="804" class="lk">https://hook.eu2.make.com/fyx5</text>
<line x1="1855" y1="812" x2="1977" y2="812" class="dv"/>
<text x="1979" y="829" class="p">Next Step</text><circle cx="1987" cy="826" r="3.8" class="hg"/>
</g>

<g id="node-send22-age">
<rect x="1814" y="506" width="195" height="214" rx="12" class="cd"/>
<use href="#wa" x="1834" y="523"/>
<text x="1847" y="520" class="wa">WhatsApp</text><text x="1847" y="531" class="ti">Send Message #22</text>
<rect x="1933" y="514" width="65" height="10" rx="1" class="bd"/><text x="1965.5" y="521.8" class="bt">2 Respondents</text>
<text x="1846" y="552" class="v">2</text><text x="1911" y="552" class="v">100.0%</text><text x="1976" y="552" class="v">0%</text>
<text x="1846" y="565.6" class="l">Sent</text><text x="1911" y="565.6" class="l">Delivered</text><text x="1976" y="565.6" class="l">Clicked</text>
<rect x="1825" y="580" width="173" height="37" rx="8" class="mb"/>
<text x="1832" y="595.6" class="m">Hey! Tu es toujours là ? Je t'ai demandé</text>
<text x="1832" y="608" class="m">ton âge 😊</text>
<rect x="1825" y="625" width="173" height="25" rx="8" class="wb"/><use href="#ch" x="1848" y="637"/><text x="1857" y="641" class="w">Waiting for Text from contact...</text>
<use href="#bt" x="1938" y="664.5"/><text x="2001" y="668" class="p">Action on reply</text>
<text x="2001" y="688" class="p">If contact has not responded</text>
<text x="2001" y="709" class="p">Next Step</text>
</g>

<g id="zoom-in"><rect x="1871" y="693" width="62" height="62" rx="10" class="zb"/><line x1="1891" y1="724" x2="1913" y2="724" class="zi"/><line x1="1902" y1="713" x2="1902" y2="735" class="zi"/></g>
<g id="zoom-out"><rect x="1871" y="785" width="62" height="61" rx="10" class="zb"/><line x1="1891" y1="815" x2="1913" y2="815" class="zi"/></g>
</svg>
